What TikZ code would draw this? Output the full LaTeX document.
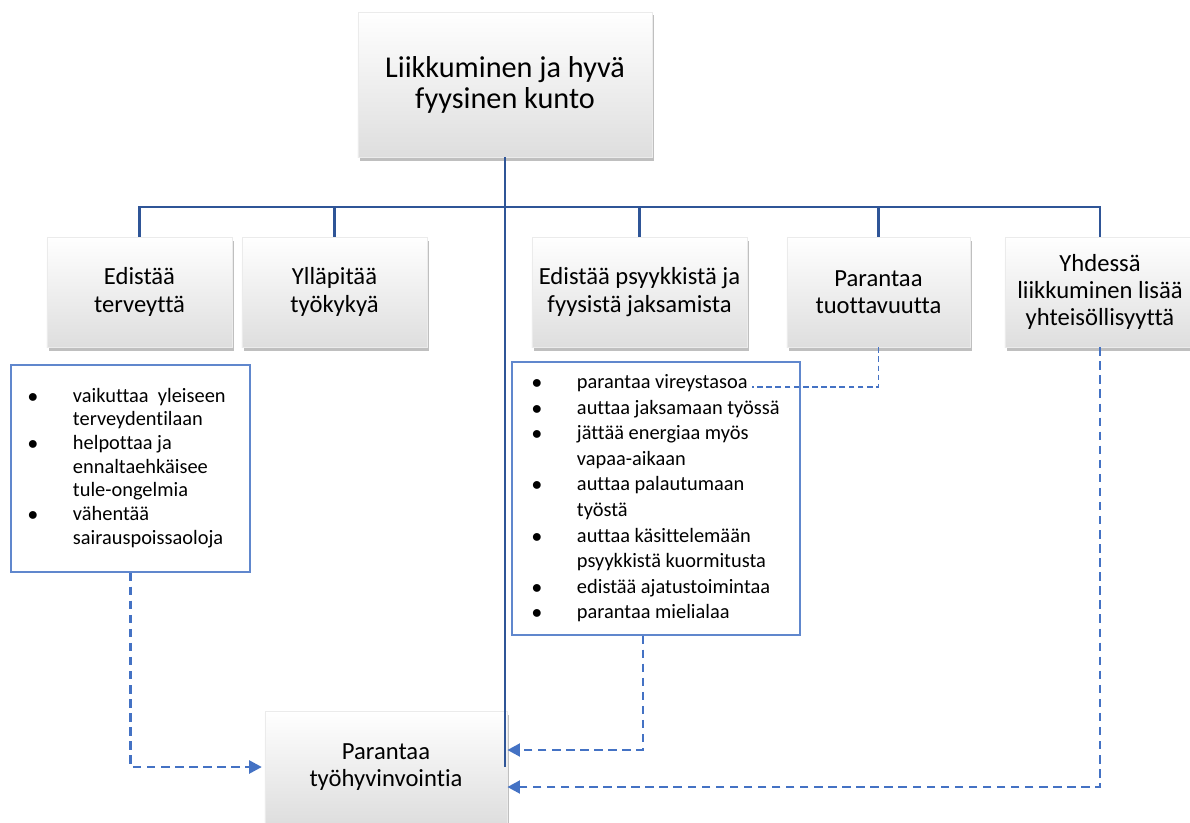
\documentclass[tikz,border=0pt]{standalone}
\usepackage{fontspec}
\setmainfont{Carlito}[Ligatures=NoCommon]
\usetikzlibrary{arrows.meta,shadows}
\definecolor{busblue}{RGB}{47,85,151}
\definecolor{dashblue}{RGB}{68,114,196}
\tikzset{
  card/.style={draw=black!8, top color=white, bottom color=black!13,
    drop shadow={opacity=0.5,shadow xshift=1.5pt,shadow yshift=-2.5pt},
    align=center, font=\fontsize{17.5}{19.5}\selectfont, minimum height=2.75cm},
  listbox/.style={draw=dashblue!85, line width=0.8pt, inner sep=0pt, fill=white},
  bus/.style={draw=busblue, line width=2.1pt},
  dasharrow/.style={draw=dashblue, line width=2.1pt, dash pattern=on 6pt off 4pt,
    -{Triangle[length=9pt,width=9pt]}},
  thindash/.style={draw=dashblue, line width=0.9pt, dash pattern=on 4pt off 2.5pt}
}
\begin{document}
\begin{tikzpicture}[x=0.025cm,y=-0.025cm]
  \useasboundingbox[fill=white] (0,0) rectangle (1190,822);

  % top and second row
  \node[card, minimum width=7.35cm, minimum height=3.625cm,
        font=\fontsize{21.5}{22}\selectfont] (root) at (505,84.5) {Liikkuminen ja hyvä\\fyysinen kunto};
  \node[card, minimum width=4.625cm] (terv)  at (139.5,292) {Edistää\\terveyttä};
  \node[card, minimum width=4.625cm] (kyky)  at (334.5,292) {Ylläpitää\\työkykyä};
  \node[card, minimum width=5.375cm] (jaks)  at (639.5,292) {Edistää psyykkistä ja\\fyysistä jaksamista};
  \node[card, minimum width=4.575cm] (tuot)  at (878.5,292) {Parantaa\\tuottavuutta};
  \node[card, minimum width=4.75cm]  (yht)   at (1100,292)  {Yhdessä\\liikkuminen lisää\\yhteisöllisyyttä};
  \node[card, minimum width=6.05cm, minimum height=2.8cm] (hyvi) at (386,767) {Parantaa\\työhyvinvointia};

  % lists
  \node[listbox, minimum width=5.975cm, minimum height=5.175cm,
        font=\fontsize{14.5}{16.8}\selectfont] (tervlist) at (130.5,468.5) {%
    \begin{tabular}{@{}p{1.125cm}@{}p{4cm}@{}}
      $\bullet$ & vaikuttaa~ yleiseen\\
                & terveydentilaan\\
      $\bullet$ & helpottaa ja\\
                & ennaltaehkäisee\\
                & tule-ongelmia\\
      $\bullet$ & vähentää\\
                & sairauspoissaoloja
    \end{tabular}};
  \node[listbox, minimum width=7.2cm, minimum height=6.825cm,
        font=\fontsize{14.5}{18.2}\selectfont] (jakslist) at (656,498.5) {%
    \begin{tabular}{@{}p{1.125cm}@{}p{5.075cm}@{}}
      $\bullet$ & parantaa vireystasoa\\
      $\bullet$ & auttaa jaksamaan työssä\\
      $\bullet$ & jättää energiaa myös\\
                & vapaa-aikaan\\
      $\bullet$ & auttaa palautumaan\\
                & työstä\\
      $\bullet$ & auttaa käsittelemään\\
                & psyykkistä kuormitusta\\
      $\bullet$ & edistää ajatustoimintaa\\
      $\bullet$ & parantaa mielialaa
    \end{tabular}};
  \coordinate (bus) at (505,207);
  \coordinate (vire) at (752,387);

  % solid tree lines
  \draw[bus] (root.south) -- (root.south |- hyvi.east);
  \draw[bus] (terv.north) |- (bus);
  \draw[bus] (kyky.north) |- (bus);
  \draw[bus] (jaks.north) |- (bus);
  \draw[bus] (tuot.north) |- (bus);
  \draw[bus] (yht.north) |- (bus);

  % dashed links
  \draw[dasharrow, shorten >=2pt] (tervlist.south) |- (hyvi.west);
  \draw[dasharrow] ([xshift=-0.325cm]jakslist.south) |- ([yshift=0.425cm]hyvi.east);
  \draw[dasharrow] (yht.south) |- ([yshift=-0.5cm]hyvi.east);
  \draw[thindash] (tuot.south) |- (vire);
\end{tikzpicture}
\end{document}
